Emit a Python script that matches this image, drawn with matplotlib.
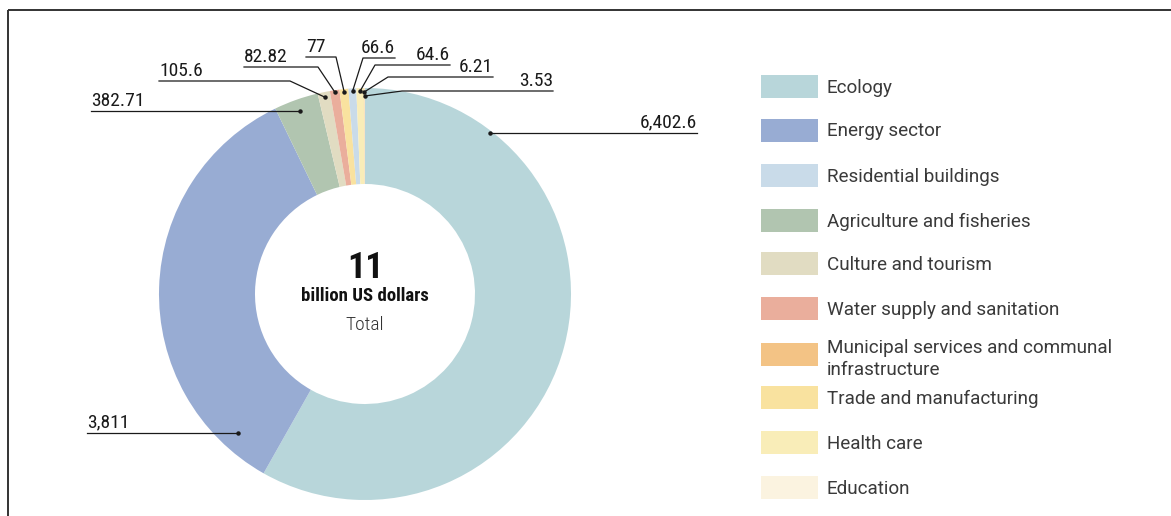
import numpy as np
import matplotlib
matplotlib.use("Agg")
import matplotlib.pyplot as plt
from matplotlib import font_manager
from matplotlib.patches import Rectangle

# Данные: объёмы по секторам (млн долларов США), порядок по часовой стрелке
sectors = ["Ecology", "Energy sector", "Agriculture and fisheries", "Culture and tourism",
           "Water supply and sanitation", "Trade and manufacturing", "Residential buildings",
           "Health care", "Municipal services and communal\ninfrastructure", "Education"]
values = [6402.6, 3811, 382.71, 105.6, 82.82, 77, 66.6, 64.6, 6.21, 3.53]
value_labels = ["6,402.6", "3,811", "382.71", "105.6", "82.82", "77", "66.6", "64.6", "6.21", "3.53"]
colors = ["#b8d6da", "#98acd3", "#b1c5b0", "#e1dcc2", "#eaae9c", "#f9e29f", "#c9dbe9",
          "#f9edb8", "#f3c385", "#fbf3e0"]

# порядок легенды
legend_order = ["Ecology", "Energy sector", "Residential buildings", "Agriculture and fisheries",
                "Culture and tourism", "Water supply and sanitation",
                "Municipal services and communal\ninfrastructure", "Trade and manufacturing",
                "Health care", "Education"]

total_text = "11"
unit_text = "billion US dollars"

W, H = 1171, 516
names = {f.name for f in font_manager.fontManager.ttflist}
narrow = "Roboto Condensed" if "Roboto Condensed" in names else (
    "Liberation Sans Narrow" if "Liberation Sans Narrow" in names else "Roboto")


def Y(y):
    # координаты сверху вниз -> снизу вверх
    return H - y


fig = plt.figure(figsize=(W / 100, H / 100), dpi=100)
ax = fig.add_axes([0, 0, 1, 1])

cx, cy, R = 365, 294, 206
wedges, _ = ax.pie(values, colors=colors, startangle=90, counterclock=False,
                   radius=R, center=(cx, Y(cy)),
                   wedgeprops=dict(width=96, linewidth=0))
ax.set_xlim(0, W)
ax.set_ylim(0, H)
ax.set_aspect("equal")
ax.axis("off")

# рамка сверху и слева
ax.plot([8, W], [Y(10), Y(10)], color="#333333", lw=1.4, solid_capstyle="butt")
ax.plot([8, 8], [Y(10), 0], color="#333333", lw=1.4, solid_capstyle="butt")

# выноски: (угол точки или None, радиус точки, излом, конец линии, выравнивание)
callouts = [
    (52.2, 204, None, (697, 134), "right"),
    (227.6, 188, None, (87, 433), "left"),
    (None, 194, None, (91, 112), "left"),
    (None, 201, (290, 81), (159, 81), "left"),
    (None, 204, (318, 67), (244, 67), "left"),
    (None, 203, (336, 57), (306, 57), "left"),
    (None, 203, (363, 58), (395, 58), "right"),
    (None, 203, (375, 65), (450, 65), "right"),
    (None, 202, (388, 77), (493, 77), "right"),
    (None, 198, (402, 91), (553, 91), "right"),
]

for w, lab, (ang, r, elbow, end, ha) in zip(wedges, value_labels, callouts):
    if ang is None:
        ang = (w.theta1 + w.theta2) / 2
    px = cx + r * np.cos(np.radians(ang))
    py = Y(cy) + r * np.sin(np.radians(ang))
    xs, ys = [px], [py]
    if elbow is not None:
        xs.append(elbow[0]); ys.append(Y(elbow[1]))
    else:
        end = (end[0], H - py)
    xs.append(end[0]); ys.append(Y(end[1]))
    ax.plot(xs, ys, color="#1a1a1a", lw=0.9)
    ax.plot(px, py, "o", color="#1a1a1a", ms=2.2)
    ax.text(end[0], Y(end[1]) + 5, lab, ha=ha, va="baseline", fontsize=14,
            family=[narrow, "DejaVu Sans"], color="#1a1a1a")

# подпись в центре
ax.text(cx, Y(268), total_text, ha="center", va="center", fontsize=26,
        fontweight="bold", family=[narrow, "DejaVu Sans"], color="#111111")
ax.text(cx, Y(296), unit_text, ha="center", va="center", fontsize=13.5,
        fontweight="bold", family=[narrow, "DejaVu Sans"], color="#111111")
ax.text(cx, Y(325), "Total", ha="center", va="center", fontsize=14,
        fontweight="light", family=[narrow, "DejaVu Sans"], color="#333333")

# легенда вручную
leg_y = [86.5, 130, 175, 220, 263.5, 308.5, 354, 397.5, 442.5, 487.5]
text_y = [88, 131.5, 176.5, 221.5, 265, 310, 359, 399, 444, 489]
color_of = dict(zip(sectors, colors))
for name, y, ty in zip(legend_order, leg_y, text_y):
    ax.add_patch(Rectangle((761, Y(y) - 11.5), 57, 23, color=color_of[name], lw=0))
    ax.text(827, Y(ty), name, ha="left", va="center", fontsize=13.6,
            family=["Roboto", "DejaVu Sans"], color="#3a3a3a", linespacing=1.3)

fig.savefig("out.png", dpi=100)
